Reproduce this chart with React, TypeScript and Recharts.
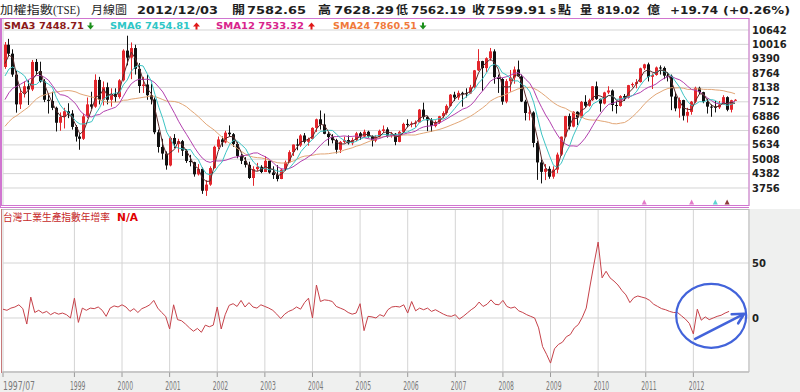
import React from "react";
import { ComposedChart, Line, Bar, XAxis, YAxis, CartesianGrid, ReferenceDot } from "recharts";

// ---- monthly TAIEX candles, 1997/07 .. 2012/12 ----
const open = [
  9030, 10000, 9610, 8700, 7400, 7900,
  8187, 8050, 9250, 8850, 8400, 7600, 7550, 7250, 6600, 6850, 7100, 7000,
  6418, 5998, 5900, 6881, 7400, 7300, 8467, 7600, 8150, 7600, 7850, 7720,
  8448, 9744, 9435, 9854, 8950, 8200, 8265, 7800, 7616, 6185, 5544, 5256,
  4739, 5936, 5674, 5797, 5382, 4935, 4883, 4352, 4589, 3636, 3903, 4624,
  5551, 5872, 5743, 6167, 6100, 5675, 5153, 4940, 4765, 4191, 4579, 4680,
  4452, 4942, 4432, 4321, 4148, 4555, 4872, 5318, 5650, 5611, 6045, 5771,
  5890, 6375, 6750, 6522, 6117, 5977, 5840, 5420, 5765, 5845, 5706, 5845,
  6140, 5995, 6207, 6006, 5819, 5994, 6241, 6311, 6033, 6118, 5764, 6203,
  6548, 6532, 6561, 6613, 7171, 6847, 6704, 6455, 6611, 6883, 7021, 7334,
  7824, 7699, 7902, 7884, 7875, 8145, 8884, 9287, 8982, 9411, 9711, 8586,
  8506, 7521, 8413, 8573, 8920, 8620, 7524, 7024, 7047, 5720, 4870, 4460,
  4591, 4248, 4557, 5211, 5993, 6890, 6432, 7078, 6826, 7509, 7340, 7582,
  8188, 7640, 7436, 7920, 8004, 7374, 7329, 7761, 7689, 8238, 8288, 8372,
  8973, 9145, 8601, 8683, 9008, 8988, 8653, 8644, 7741, 7225, 7588, 6904,
  7072, 7517, 8121, 7933, 7502, 7302, 7296, 7270, 7397, 7715, 7166, 7583,
];
const high = [
  10120, 10256, 9800, 8860, 8050, 8400,
  8450, 9337, 9378, 9260, 8500, 7850, 7950, 7300, 7050, 7250, 7450, 7150,
  6500, 6100, 7000, 7700, 7950, 8710, 8600, 8400, 8350, 8100, 8100, 8500,
  9800, 10393, 10100, 10000, 9200, 8600, 8700, 8300, 7700, 6300, 5900, 5350,
  6000, 6104, 5900, 5850, 5450, 5200, 4900, 4800, 4650, 4100, 4700, 5600,
  6000, 6000, 6250, 6484, 6150, 5750, 5250, 5100, 4900, 4700, 4850, 4750,
  5141, 4950, 4700, 4750, 4600, 4950, 5400, 5650, 5900, 6100, 6150, 5950,
  6400, 6780, 7135, 7000, 6200, 6100, 5900, 5800, 6000, 6050, 5950, 6200,
  6200, 6300, 6250, 6050, 6050, 6300, 6480, 6400, 6200, 6150, 6250, 6600,
  6750, 6650, 6700, 7200, 7476, 6900, 6800, 6700, 6900, 7100, 7400, 7850,
  7950, 8000, 7950, 8100, 8250, 8900, 9807, 9300, 9450, 9859, 9800, 8700,
  8550, 8500, 8900, 9050, 9309, 8700, 7600, 7300, 7100, 5800, 5000, 4800,
  4700, 4700, 5300, 6000, 6900, 7000, 7100, 7100, 7550, 7800, 7650, 8200,
  8395, 7650, 7950, 8190, 8050, 7550, 7800, 7850, 8250, 8350, 8500, 9000,
  9170, 9220, 8750, 9050, 9100, 9050, 8800, 8700, 7900, 7700, 7600, 7250,
  7550, 8170, 8170, 7950, 7650, 7400, 7550, 7550, 7800, 7750, 7600, 7628,
];
const low = [
  8950, 9480, 8600, 7040, 7200, 7700,
  7375, 7980, 8700, 8350, 7500, 7000, 7150, 6220, 6250, 6350, 6800, 6300,
  5780, 5422, 5850, 6800, 7200, 7250, 7400, 7350, 7400, 7300, 7500, 7650,
  8400, 9100, 8500, 8700, 7900, 7900, 7600, 7400, 6100, 5300, 5000, 4555,
  4700, 5500, 5300, 5150, 4850, 4700, 4250, 4300, 3500, 3411, 3850, 4600,
  5450, 5550, 5700, 6000, 5550, 5050, 4800, 4650, 4150, 3850, 4500, 4400,
  4450, 4380, 4150, 4044, 4140, 4500, 4850, 5150, 5400, 5550, 5700, 5600,
  5880, 6200, 6300, 6100, 5600, 5700, 5260, 5280, 5700, 5650, 5620, 5800,
  5850, 5950, 5950, 5565, 5750, 5950, 6150, 5950, 5950, 5620, 5750, 6150,
  6400, 6400, 6400, 6600, 6750, 6232, 6200, 6400, 6550, 6800, 6950, 7300,
  7550, 7600, 7300, 7700, 7850, 8100, 8850, 7987, 8800, 9300, 8300, 7900,
  7384, 7450, 7950, 8300, 8600, 7500, 6700, 6700, 5530, 4110, 3955, 4100,
  4160, 4160, 4400, 5150, 5950, 6300, 6400, 6500, 6800, 7250, 7300, 7550,
  7600, 7080, 7400, 7850, 7100, 7000, 7300, 7550, 7650, 8150, 8100, 8350,
  8900, 8400, 8070, 8650, 8700, 8500, 8400, 7148, 7100, 6820, 6700, 6609,
  6950, 7450, 7850, 7450, 7000, 6860, 7050, 7200, 7400, 7100, 7050, 7562,
];
const close = [
  10000, 9610, 8700, 7400, 7900, 8187,
  8050, 9250, 8850, 8400, 7600, 7550, 7250, 6600, 6850, 7100, 7000, 6418,
  5998, 5900, 6881, 7400, 7300, 8467, 7600, 8150, 7600, 7850, 7720, 8448,
  9744, 9435, 9854, 8950, 8200, 8265, 7800, 7616, 6185, 5544, 5256, 4739,
  5936, 5674, 5797, 5382, 4935, 4883, 4352, 4589, 3636, 3903, 4624, 5551,
  5872, 5743, 6167, 6100, 5675, 5153, 4940, 4765, 4191, 4579, 4680, 4452,
  4942, 4432, 4321, 4148, 4555, 4872, 5318, 5650, 5611, 6045, 5771, 5890,
  6375, 6750, 6522, 6117, 5977, 5840, 5420, 5765, 5845, 5706, 5845, 6140,
  5995, 6207, 6006, 5819, 5994, 6241, 6311, 6033, 6118, 5764, 6203, 6548,
  6532, 6561, 6613, 7171, 6847, 6704, 6455, 6611, 6883, 7021, 7334, 7824,
  7699, 7902, 7884, 7875, 8145, 8884, 9287, 8982, 9411, 9711, 8586, 8506,
  7521, 8413, 8573, 8920, 8620, 7524, 7024, 7047, 5720, 4870, 4460, 4591,
  4248, 4557, 5211, 5993, 6890, 6432, 7078, 6826, 7509, 7340, 7582, 8188,
  7640, 7436, 7920, 8004, 7374, 7329, 7761, 7689, 8238, 8288, 8372, 8973,
  9145, 8601, 8683, 9008, 8988, 8653, 8644, 7741, 7225, 7588, 6904, 7072,
  7517, 8121, 7933, 7502, 7302, 7296, 7270, 7397, 7715, 7166, 7580, 7600,
];
// closes 1995/08 .. 1997/06 (only used to warm up the moving averages)
const priorClose = [
  4750, 4850, 4900, 4800, 5174,
  5100, 4750, 4900, 5700, 6200, 6300, 5900, 6050, 6300, 6450, 6700, 6934,
  7044, 7800, 8100, 8400, 8500, 9030,
];
// industrial production index, YoY %, 1997/07 .. 2012/12
const ipGrowth = [
  8, 7, 9, 10, 12, 8.5,
  -5.5, 19, 5, 7, 4.5, 6, 3, 5, 3.5, 4.5, 3, 0,
  18, -4, 9, 7, 9, 8.5, 10, 7, 1.5, 9, 11, 10,
  12, 10, 6, 8.5, 5, 8.5, 10, 12, 16, 9, 5, 1.5,
  -10, 12, -1.5, -2.5, -5.5, -9, -12, -9.5, -13, -6.5, -8, -6.5,
  10, -10, 3, 11.5, 13, 10.5, 16, 10, 14, 10, 9, 12,
  10.5, 9, 7, 3.5, -0.5, 3.5, 6, 7.5, 10, 8, 14, 18,
  0, 30, 15, 16.5, 16, 15, 10.5, 9, 7.5, 5, 3.5, 4.5,
  13, -11.5, 1.5, 1, 0, 3, 1.5, 7.5, 10, 10.5, 10, 12,
  4.5, 15, 6.5, 9, 7.5, 9, 6, 7.5, 5.5, 3.5, 2, 1.5,
  3, -1, 1.5, 4.5, 7.5, 10, 14.5, 10.5, 12.5, 16.5, 12.5, 12,
  16, 10.5, 9, 10, 6.5, 5, 3, 1.5, 0, -9, -26, -33,
  -41, -28, -24, -22, -17, -15, -9, -6, 0.5, 9, 30, 50,
  69, 36.5, 42.5, 36.5, 33.5, 30, 25, 21, 14, 18.5, 20, 19,
  18, 16, 12.5, 10.5, 8.5, 7.5, 6, 5, 5, 2, -1, -5,
  -14.5, 8, -2, 1, -1.5, 0, 1.5, 2.5, 4.5, 6, null, null,
];

const tickMonths = ["1997/07", "1999/01", "2000/01", "2001/01", "2002/01", "2003/01", "2004/01", "2005/01", "2006/01", "2007/01", "2008/01", "2009/01", "2010/01", "2011/01", "2012/01"];
const tickLabels = ["1997/07", "1999", "2000", "2001", "2002", "2003", "2004", "2005", "2006", "2007", "2008", "2009", "2010", "2011", "2012"];
const priceTicks = [3756, 4382, 5008, 5634, 6260, 6886, 7512, 8138, 8764, 9390, 10016, 10642];
const growthTicks = [0, 50];
// small signal markers along the bottom of the price panel
const signalMonths = ["2011/01", "2012/01", "2012/07", "2012/10"];
const signalColors = ["#e27ac8", "#e27ac8", "#5fd3d3", "#8b3a3a"];

const months = close.map((_, i) => {
  const t = 6 + i;
  const y = 1997 + Math.floor(t / 12);
  const m = (t % 12) + 1;
  return `${y}/${m < 10 ? "0" + m : m}`;
});

const allClose = priorClose.concat(close);
const sma = (n: number, i: number) => {
  const end = i + priorClose.length;
  let s = 0;
  for (let k = end - n + 1; k <= end; k++) s += allClose[k];
  return s / n;
};

const rows = months.map((m, i) => ({
  m,
  o: open[i],
  h: high[i],
  l: low[i],
  c: close[i],
  range: [low[i], high[i]],
  sma3: sma(3, i),
  sma6: sma(6, i),
  sma12: sma(12, i),
  sma24: sma(24, i),
  ip: ipGrowth[i],
}));

const Candle = (props: any) => {
  const { x, y, width, height, payload } = props;
  if (!payload || x == null || y == null || height == null) return null;
  const { o, h, l, c } = payload;
  const top = height < 0 ? y + height : y;
  const hh = Math.abs(height);
  const span = h - l || 1;
  const yOf = (v: number) => top + ((h - v) / span) * hh;
  const up = c >= o;
  const color = up ? "#e3262c" : "#111111";
  const cx = Math.round(x + width / 2) + 0.5;
  const bTop = yOf(Math.max(o, c));
  const bBot = yOf(Math.min(o, c));
  return (
    <g>
      <line x1={cx} x2={cx} y1={top} y2={top + hh} stroke={color} strokeWidth={1} />
      <rect x={cx - 1.5} y={bTop} width={3} height={Math.max(1, bBot - bTop)} fill={color} />
    </g>
  );
};

const XTick = (props: any) => {
  const { x, y, payload } = props;
  const k = tickMonths.indexOf(payload.value);
  if (k < 0) return null;
  const label = tickLabels[k];
  const first = k === 0;
  return (
    <text
      x={first ? x : x - 4.5}
      y={y + 10.5}
      textAnchor="start"
      fontSize={11.5}
      fill="#7a7a7a"
      fontFamily="DejaVu Sans"
      textLength={first ? 32 : 15.5}
      lengthAdjust="spacingAndGlyphs"
    >
      {label}
    </text>
  );
};

const Annot = (props: any) => {
  const { cx, cy } = props;
  if (cx == null || cy == null) return null;
  const col = "#4263da";
  return (
    <g>
      <ellipse cx={cx - 2} cy={cy} rx={35} ry={32} fill="none" stroke={col} strokeWidth={2.2} />
      <line x1={cx - 18} y1={cy + 23} x2={cx + 30} y2={cy - 1.5} stroke={col} strokeWidth={2.6} strokeLinecap="round" />
      <polyline
        points={`${cx + 18.5},${cy - 1.5} ${cx + 31},${cy - 2} ${cx + 25},${cy + 7.5}`}
        fill="none"
        stroke={col}
        strokeWidth={2.6}
        strokeLinejoin="round"
        strokeLinecap="round"
      />
    </g>
  );
};

const makeSignal = (color: string) => (props: any) => {
  const { cx, cy } = props;
  if (cx == null || cy == null) return null;
  return <polygon points={`${cx - 2.5},${cy + 2} ${cx + 2.5},${cy + 2} ${cx},${cy - 3}`} fill={color} />;
};

const headerParts = [
  { t: "加權指數", x: 0, w: 53, k: "cjk" },
  { t: "(TSE)", x: 53, w: 27, k: "serif" },
  { t: "月線圖", x: 91, w: 36, k: "cjk" },
  { t: "2012/12/03", x: 137, w: 81, k: "num" },
  { t: "開", x: 232, w: 13, k: "cjkb" },
  { t: "7582.65", x: 247, w: 59, k: "num" },
  { t: "高", x: 318, w: 13, k: "cjkb" },
  { t: "7628.29", x: 334, w: 60, k: "num" },
  { t: "低", x: 396, w: 12, k: "cjkb" },
  { t: "7562.19", x: 411, w: 55, k: "num" },
  { t: "收", x: 472, w: 13, k: "cjkb" },
  { t: "7599.91", x: 487, w: 59, k: "num" },
  { t: "s", x: 550, w: 6, k: "num" },
  { t: "點", x: 558, w: 13, k: "cjkb" },
  { t: "量", x: 580, w: 12, k: "cjkb" },
  { t: "819.02", x: 597, w: 43, k: "num" },
  { t: "億", x: 647, w: 13, k: "cjkb" },
  { t: "+19.74", x: 670, w: 48, k: "num" },
  { t: "(+0.26%)", x: 723, w: 67, k: "num" },
];

const legendParts = [
  { t: "SMA3 7448.71", x: 4, w: 80, color: "#8b1a1a", down: true, ax: 90.5, acol: "#1a8f1a" },
  { t: "SMA6 7454.81", x: 110, w: 80, color: "#2ec6c6", down: false, ax: 196.5, acol: "#e01818" },
  { t: "SMA12 7533.32", x: 216, w: 88, color: "#d8248c", down: false, ax: 311.5, acol: "#e01818" },
  { t: "SMA24 7860.51", x: 333, w: 84, color: "#f07a3a", down: true, ax: 423, acol: "#1a8f1a" },
];

const arrowPath = (cx: number, down: boolean) => {
  if (down) {
    return `M ${cx - 1} 22.5 L ${cx + 1} 22.5 L ${cx + 1} 25.5 L ${cx + 3.5} 25.5 L ${cx} 29.5 L ${cx - 3.5} 25.5 L ${cx - 1} 25.5 Z`;
  }
  return `M ${cx - 1} 29.5 L ${cx + 1} 29.5 L ${cx + 1} 26.5 L ${cx + 3.5} 26.5 L ${cx} 22.5 L ${cx - 3.5} 26.5 L ${cx - 1} 26.5 Z`;
};

const fontOf = (k: string) => {
  if (k === "cjk") return { fontFamily: "Noto Sans CJK TC", fontSize: 11.5, fontWeight: 400 };
  if (k === "cjkb") return { fontFamily: "Noto Sans CJK TC", fontSize: 11.5, fontWeight: 700 };
  if (k === "serif") return { fontFamily: "Liberation Serif", fontSize: 12.5, fontWeight: 400 };
  return { fontFamily: "DejaVu Sans", fontSize: 11, fontWeight: 700 };
};

const gridColor = "#d4d4d4";

export default function App() {
  return (
    <div style={{ position: "fixed", left: 0, top: 0, width: 800, height: 392, background: "#ffffff", overflow: "hidden" }}>
      <svg width={800} height={392} style={{ position: "absolute", left: 0, top: 0 }}>
        <rect x={750} y={209} width={50} height={183} fill="#eff0ef" />
        <rect x={0} y={373} width={800} height={19} fill="#eff0ef" />
        <rect x={2} y={209} width={747} height={163} fill="#ffffff" />
      </svg>

      <div style={{ position: "absolute", left: 0, top: 18 }}>
        <ComposedChart width={800} height={188} data={rows} margin={{ top: 0, right: 0, bottom: 0, left: 3 }}>
          <CartesianGrid stroke={gridColor} strokeWidth={1} />
          <XAxis
            dataKey="m"
            ticks={tickMonths}
            interval={0}
            padding={{ left: 0, right: 12 }}
            height={0}
            tick={false}
            axisLine={false}
            tickLine={false}
          />
          <YAxis
            orientation="right"
            width={51}
            domain={[2971, 11165]}
            ticks={priceTicks}
            interval={0}
            allowDataOverflow
            axisLine={false}
            tickLine={false}
            tickSize={0}
            tickMargin={3}
            tick={{ fontSize: 10, fontWeight: 700, fill: "#222", fontFamily: "DejaVu Sans" }}
          />
          <Line dataKey="sma24" stroke="#e2a676" strokeWidth={1} dot={false} isAnimationActive={false} />
          <Line dataKey="sma12" stroke="#b23fae" strokeWidth={1} dot={false} isAnimationActive={false} />
          <Line dataKey="sma6" stroke="#3cc4c4" strokeWidth={1} dot={false} isAnimationActive={false} />
          <Line dataKey="sma3" stroke="#5a2a2a" strokeWidth={1} dot={false} isAnimationActive={false} />
          <Bar dataKey="range" barSize={3} shape={<Candle />} isAnimationActive={false} />
          {signalMonths.map((m, i) => (
            <ReferenceDot key={m} x={m} y={3120} r={3} shape={makeSignal(signalColors[i])} />
          ))}
        </ComposedChart>
      </div>

      <div style={{ position: "absolute", left: 0, top: 209 }}>
        <ComposedChart width={800} height={183} data={rows} margin={{ top: 0, right: 0, bottom: 0, left: 3 }}>
          <CartesianGrid stroke={gridColor} strokeWidth={1} />
          <XAxis
            dataKey="m"
            ticks={tickMonths}
            interval={0}
            padding={{ left: 0, right: 12 }}
            height={20}
            tick={<XTick />}
            tickSize={5}
            tickLine={{ stroke: "#9a9a9a" }}
            axisLine={{ stroke: "#bdbdbd" }}
          />
          <YAxis
            orientation="right"
            width={51}
            domain={[-49.1, 99.1]}
            ticks={growthTicks}
            interval={0}
            allowDataOverflow
            axisLine={false}
            tickLine={false}
            tickSize={0}
            tickMargin={3}
            tick={{ fontSize: 10, fontWeight: 700, fill: "#222", fontFamily: "DejaVu Sans" }}
          />
          <Line dataKey="ip" stroke="#c6424a" strokeWidth={1} dot={false} connectNulls={false} isAnimationActive={false} />
          <ReferenceDot x={months[179]} y={2} r={34} shape={<Annot />} />
        </ComposedChart>
      </div>

      <svg width={800} height={392} style={{ position: "absolute", left: 0, top: 0, pointerEvents: "none" }}>
        {headerParts.map((p, i) => {
          const f = fontOf(p.k);
          return (
            <text key={i} x={p.x} y={13.5} textLength={p.w} lengthAdjust="spacingAndGlyphs" fill="#1e1e1e" {...f}>
              {p.t}
            </text>
          );
        })}
        {legendParts.map((p, i) => (
          <g key={i}>
            <text x={p.x} y={28.5} textLength={p.w} lengthAdjust="spacingAndGlyphs" fill={p.color} fontFamily="DejaVu Sans" fontWeight={700} fontSize={9.5}>
              {p.t}
            </text>
            <path d={arrowPath(p.ax, p.down)} fill={p.acol} />
          </g>
        ))}
        <rect x={1.5} y={18.5} width={747.5} height={187} fill="none" stroke="#d075d0" strokeWidth={1} />
        <line x1={0} x2={749} y1={207.5} y2={207.5} stroke="#d075d0" strokeWidth={1} />
        <line x1={0.5} x2={0.5} y1={18} y2={208} stroke="#d075d0" strokeWidth={1} />
        <rect x={1.5} y={209.5} width={747.5} height={162.5} fill="none" stroke="#bdbdbd" strokeWidth={1} />
        <line x1={1.5} x2={1.5} y1={209} y2={373} stroke="#c77a7a" strokeWidth={1} />
        <text x={3} y={221} textLength={107} lengthAdjust="spacingAndGlyphs" fill="#c62828" fontFamily="Noto Sans CJK TC" fontSize={10.5}>
          台灣工業生產指數年增率
        </text>
        <text x={117} y={221} textLength={21} lengthAdjust="spacingAndGlyphs" fill="#e00000" fontFamily="DejaVu Sans" fontWeight={700} fontSize={10}>
          N/A
        </text>
      </svg>
    </div>
  );
}
